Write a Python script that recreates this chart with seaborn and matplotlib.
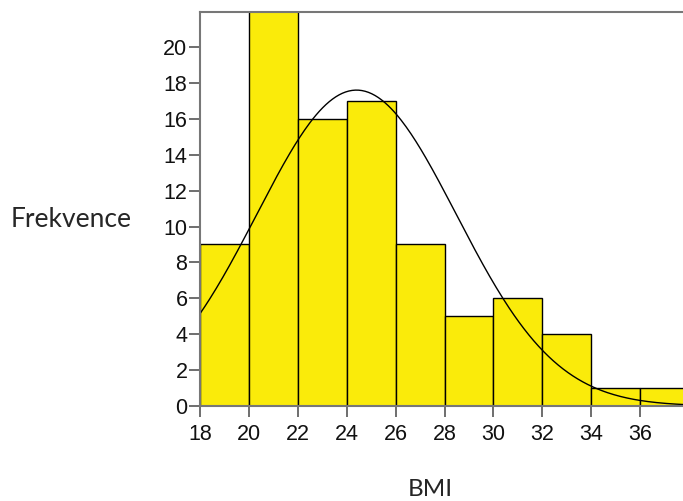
import numpy as np
import pandas as pd
import matplotlib.pyplot as plt
import seaborn as sns

# histogram counts (bin width 2)
bin_edges = [18, 20, 22, 24, 26, 28, 30, 32, 34, 36, 38]
counts = [9, 22, 16, 17, 9, 5, 6, 4, 1, 1]

# fitted normal curve parameters
mean_bmi = 24.4
sd_bmi = 4.08
n_total = sum(counts)
bin_width = 2

x_ticks = [18, 20, 22, 24, 26, 28, 30, 32, 34, 36]
y_ticks = [0, 2, 4, 6, 8, 10, 12, 14, 16, 18, 20]

centers = [(a + b) / 2 for a, b in zip(bin_edges[:-1], bin_edges[1:])]
df = pd.DataFrame({"bmi": centers, "count": counts})

sns.set_style("white")
plt.rcParams["font.family"] = ["Liberation Sans", "DejaVu Sans"]

fig = plt.figure(figsize=(6.83, 5.01), dpi=100)
ax = fig.add_axes([0.2928, 0.1896, 0.7072, 0.7864])

sns.histplot(
    data=df,
    x="bmi",
    weights="count",
    bins=bin_edges,
    color="#FAEB0A",
    alpha=1,
    edgecolor="black",
    linewidth=1.0,
    ax=ax
)

# normal curve
xs = np.linspace(18, 38, 300)
ys = n_total * bin_width / (sd_bmi * np.sqrt(2 * np.pi)) * np.exp(-(xs - mean_bmi) ** 2 / (2 * sd_bmi ** 2))
sns.lineplot(x=xs, y=ys, color="black", linewidth=1.0, ax=ax)

ax.set_xlim(18, 37.75)
ax.set_ylim(0, 21.95)
ax.set_xticks(x_ticks)
ax.set_yticks(y_ticks)
ax.set_xlabel("")
ax.set_ylabel("")

for side in ["left", "bottom", "top"]:
    ax.spines[side].set_color("#777777")
    ax.spines[side].set_linewidth(1.5)
ax.spines["right"].set_visible(False)

ax.tick_params(axis="both", direction="out", length=8, width=1.2, color="#555555",
               labelsize=15.5, labelcolor="#111111")
ax.tick_params(axis="x", pad=5)
ax.tick_params(axis="y", pad=1)
ax.tick_params(left=True, bottom=True)
for lab in ax.get_xticklabels() + ax.get_yticklabels():
    lab.set_family(["Liberation Sans", "DejaVu Sans"])

fig.text(0.015, 0.561, "Frekvence", fontsize=19, family=["Lato", "DejaVu Sans"], va="center", ha="left")
fig.text(0.63, 0.022, "BMI", fontsize=17.5, family=["Lato", "DejaVu Sans"], va="center", ha="center")

plt.savefig("out.png", dpi=100)
